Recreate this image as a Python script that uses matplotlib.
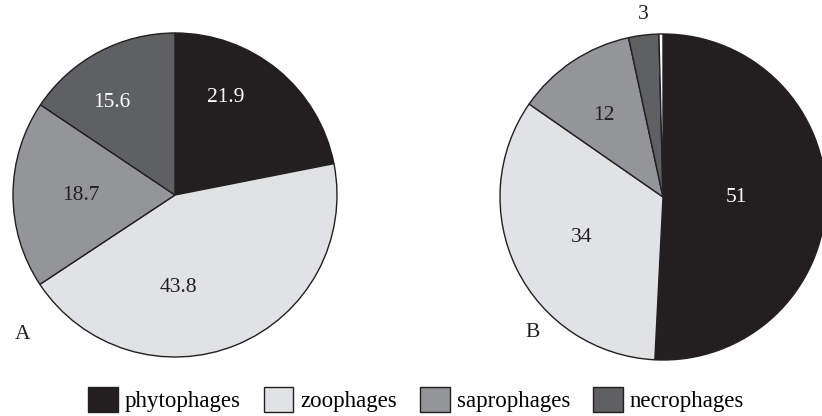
import matplotlib.pyplot as plt
from matplotlib.patches import Patch

plt.rcParams['font.family'] = ['Liberation Serif', 'DejaVu Serif']

groups = ["phytophages", "zoophages", "saprophages", "necrophages"]
colors = ["#231f20", "#e1e2e4", "#939598", "#5f6062"]

values_a = [21.9, 43.8, 18.7, 15.6]
labels_a = ["21.9", "43.8", "18.7", "15.6"]

# B has a thin white sliver at the top
values_b = [51, 34, 12, 3, 0.4]
labels_b = ["51", "34", "12", "3", ""]
colors_b = colors + ["white"]

# label positions (in pie radius units) and text colours
pos_a = [(0.315, 0.60), (0.02, -0.57), (-0.58, 0.0), (-0.39, 0.57)]
tc_a = ["white", "#231f20", "#231f20", "white"]
pos_b = [(0.45, 0.0), (-0.5, -0.25), (-0.36, 0.5), (-0.12, 1.12), (0, 0)]
tc_b = ["white", "#231f20", "#231f20", "#231f20", "#231f20"]

W, H = 822, 416
fs = 15.5
fig = plt.figure(figsize=(W / 100, H / 100), dpi=100)


def pie_axes(cx, cy, r):
    ax = fig.add_axes([(cx - r) / W, (H - cy - r) / H, 2 * r / W, 2 * r / H])
    return ax


def draw(ax, vals, cols, labs, pos, tcs, tag, tag_xy):
    ax.pie(vals, colors=cols, startangle=90, counterclock=False, radius=1,
           wedgeprops=dict(edgecolor="#231f20", linewidth=1.0))
    ax.set_xlim(-1, 1)
    ax.set_ylim(-1, 1)
    ax.set_aspect('equal')
    ax.axis('off')
    for lab, (x, y), c in zip(labs, pos, tcs):
        if lab:
            ax.text(x, y, lab, ha='center', va='center', color=c, fontsize=fs,
                    clip_on=False)
    ax.text(tag_xy[0], tag_xy[1], tag, ha='center', va='center', fontsize=fs,
            color="#231f20", clip_on=False)
    for w in ax.patches:
        w.set_clip_on(False)


ax1 = pie_axes(175, 195, 162)
draw(ax1, values_a, colors, labels_a, pos_a, tc_a, "A", (-0.944, -0.86))

ax2 = pie_axes(663, 197, 163)
draw(ax2, values_b, colors_b, labels_b, pos_b, tc_b, "B", (-0.80, -0.83))

handles = [Patch(facecolor=c, edgecolor="#231f20", linewidth=1.0) for c in colors]
fig.legend(handles, groups, loc='center', bbox_to_anchor=(0.506, 0.04),
           ncol=4, frameon=False, fontsize=16.5, handlelength=1.3,
           handleheight=1.3, handletextpad=0.3, columnspacing=1.0,
           borderpad=0.1)

fig.savefig("out.png", dpi=100)
